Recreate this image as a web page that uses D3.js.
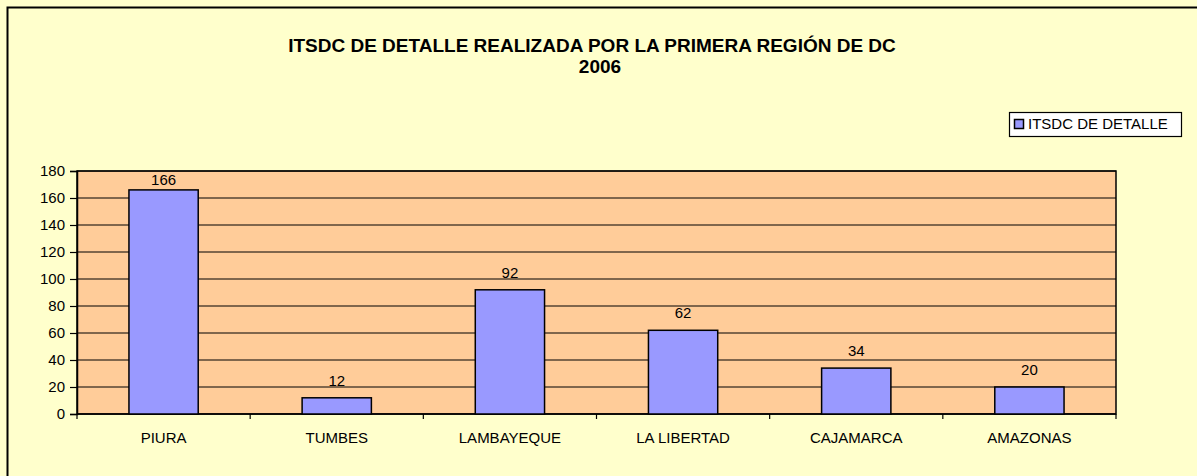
<!DOCTYPE html>
<html lang="es">
<head>
    <meta charset="UTF-8" />
    <title>ITSDC de detalle 2006</title>
    <script src="https://d3js.org/d3.v7.min.js"></script>
    <style>
        body {
            margin: 0;
            background: #ffffcc;
            font-family: "Liberation Sans", Arial, sans-serif;
        }
    </style>
</head>
<body>
    <div id="chart"></div>
    <script>
        const categories = ["PIURA", "TUMBES", "LAMBAYEQUE", "LA LIBERTAD", "CAJAMARCA", "AMAZONAS"];
        const values = [166, 12, 92, 62, 34, 20];
        const yTicks = [0, 20, 40, 60, 80, 100, 120, 140, 160, 180];
        const seriesName = "ITSDC DE DETALLE";
        const titleLines = ["ITSDC DE DETALLE REALIZADA POR LA PRIMERA REGIÓN DE DC", "2006"];

        const width = 1197;
        const height = 476;
        const plot = { left: 77, right: 1116, top: 171, bottom: 414 };

        const svg = d3.select("#chart").append("svg")
            .attr("width", width)
            .attr("height", height);

        // chart area
        svg.append("rect")
            .attr("width", width).attr("height", height)
            .attr("fill", "#ffffcc");
        svg.append("rect")
            .attr("x", 7.5).attr("y", 7.5)
            .attr("width", width + 20).attr("height", height + 20)
            .attr("fill", "none")
            .attr("stroke", "#000")
            .attr("stroke-width", 2);

        const x = d3.scaleBand()
            .domain(categories)
            .range([plot.left, plot.right])
            .paddingInner(0.6)
            .paddingOuter(0.3);

        const xCat = d3.scaleBand()
            .domain(categories)
            .range([plot.left, plot.right]);

        const y = d3.scaleLinear()
            .domain([0, 180])
            .range([plot.bottom, plot.top]);

        // plot area
        svg.append("rect")
            .attr("x", plot.left).attr("y", plot.top)
            .attr("width", plot.right - plot.left)
            .attr("height", plot.bottom - plot.top)
            .attr("fill", "#ffcc99");

        svg.append("g")
            .selectAll("line")
            .data(yTicks.slice(1))
            .join("line")
            .attr("x1", plot.left).attr("x2", plot.right)
            .attr("y1", d => y(d)).attr("y2", d => y(d))
            .attr("stroke", "#000")
            .attr("stroke-width", 1);

        svg.append("rect")
            .attr("x", plot.left).attr("y", plot.top)
            .attr("width", plot.right - plot.left)
            .attr("height", plot.bottom - plot.top)
            .attr("fill", "none")
            .attr("stroke", "#000")
            .attr("stroke-width", 1.5);

        // y axis
        const yAxis = svg.append("g")
            .attr("transform", `translate(${plot.left},0)`)
            .call(d3.axisLeft(y).tickValues(yTicks).tickSize(7).tickPadding(5));
        yAxis.select(".domain").attr("stroke-width", 1.5);
        yAxis.selectAll("line").attr("stroke-width", 1.2);
        yAxis.selectAll("text")
            .attr("font-family", "Liberation Sans, Arial, sans-serif")
            .attr("font-size", 15)
            .attr("fill", "#000");

        // x axis
        const xAxis = svg.append("g")
            .attr("transform", `translate(0,${plot.bottom})`);
        xAxis.append("line")
            .attr("x1", plot.left).attr("x2", plot.right)
            .attr("stroke", "#000").attr("stroke-width", 1.5);
        xAxis.selectAll(".tick")
            .data(categories.concat([null]))
            .join("line")
            .attr("class", "tick")
            .attr("x1", (d, i) => i < categories.length ? xCat(d) : plot.right)
            .attr("x2", (d, i) => i < categories.length ? xCat(d) : plot.right)
            .attr("y1", 0).attr("y2", 5)
            .attr("stroke", "#000").attr("stroke-width", 1.2);
        xAxis.selectAll("text")
            .data(categories)
            .join("text")
            .attr("x", d => xCat(d) + xCat.bandwidth() / 2)
            .attr("y", 29)
            .attr("text-anchor", "middle")
            .attr("font-size", 15)
            .text(d => d);

        // bars
        svg.append("g")
            .selectAll("rect")
            .data(values)
            .join("rect")
            .attr("x", (d, i) => x(categories[i]))
            .attr("y", d => y(d))
            .attr("width", x.bandwidth())
            .attr("height", d => y(0) - y(d))
            .attr("fill", "#9999ff")
            .attr("stroke", "#000")
            .attr("stroke-width", 1.5);

        // value labels
        svg.append("g")
            .selectAll("text")
            .data(values)
            .join("text")
            .attr("x", (d, i) => x(categories[i]) + x.bandwidth() / 2)
            .attr("y", d => Math.max(y(d) - 12, plot.top + 14))
            .attr("text-anchor", "middle")
            .attr("font-size", 15)
            .text(d => d);

        // title
        svg.append("text")
            .attr("x", 592).attr("y", 52)
            .attr("text-anchor", "middle")
            .attr("font-size", 19)
            .attr("font-weight", "bold")
            .text(titleLines[0]);
        svg.append("text")
            .attr("x", 600).attr("y", 73)
            .attr("text-anchor", "middle")
            .attr("font-size", 19)
            .attr("font-weight", "bold")
            .text(titleLines[1]);

        // legend
        const legend = svg.append("g").attr("transform", "translate(1009,112)");
        legend.append("rect")
            .attr("x", 0.5).attr("y", 0.5)
            .attr("width", 172).attr("height", 24)
            .attr("fill", "#fff")
            .attr("stroke", "#000")
            .attr("stroke-width", 1.2);
        legend.append("rect")
            .attr("x", 5.5).attr("y", 7.5)
            .attr("width", 9).attr("height", 9)
            .attr("fill", "#9999ff")
            .attr("stroke", "#000")
            .attr("stroke-width", 1.5);
        legend.append("text")
            .attr("x", 19).attr("y", 17)
            .attr("font-size", 15)
            .text(seriesName);
    </script>
</body>
</html>
